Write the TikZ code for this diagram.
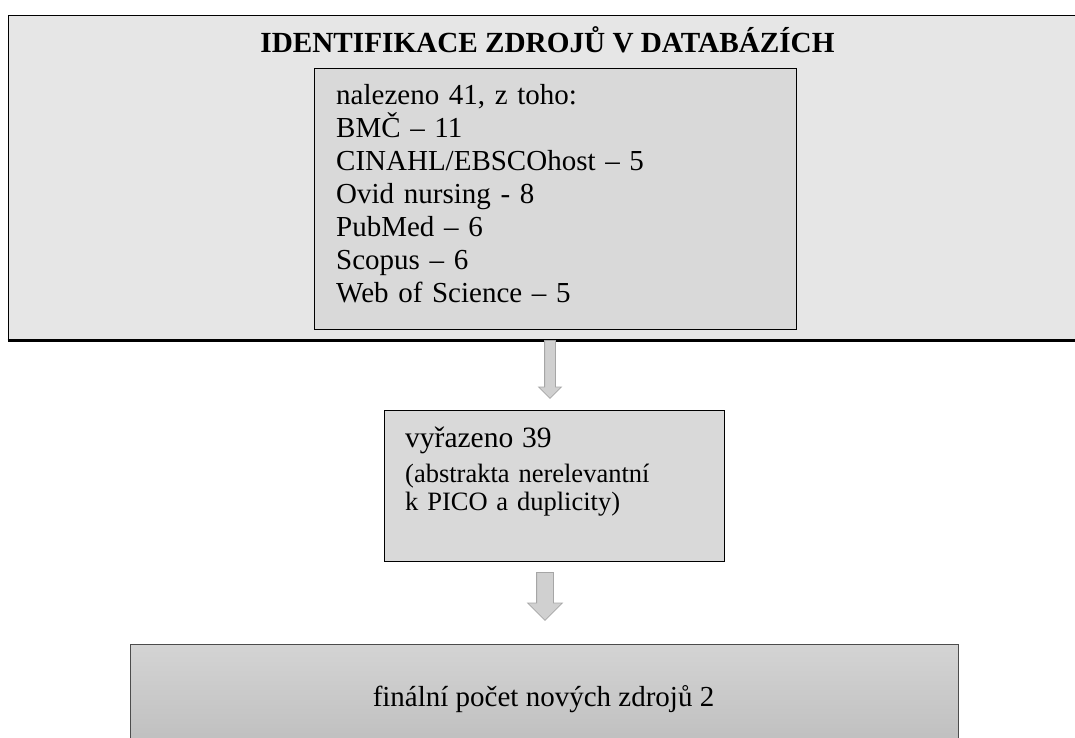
\documentclass[tikz,border=0pt]{standalone}
\usepackage{fontspec}
\setmainfont{Liberation Serif}
\usetikzlibrary{shapes.arrows}

\definecolor{dbfill}{HTML}{E6E6E6}
\definecolor{boxfill}{HTML}{D9D9D9}
\definecolor{arrowfill}{HTML}{D0D0D0}
\definecolor{arrowline}{HTML}{A6A6A6}
\definecolor{finaltop}{HTML}{D4D4D4}
\definecolor{finalbottom}{HTML}{BFBFBF}

\tikzset{
    panel/.style={rectangle, draw=black, line width=1.5pt, fill=dbfill, inner sep=0pt, anchor=north west},
    listbox/.style={rectangle, draw=black, line width=1.3pt, fill=boxfill, inner sep=0pt, anchor=north west},
    resultbox/.style={rectangle, draw=black!70, line width=1pt, top color=finaltop, bottom color=finalbottom, inner sep=0pt, anchor=north west},
    downarrow/.style={single arrow, draw=arrowline, fill=arrowfill, line width=0.8pt, inner xsep=0pt, single arrow tip angle=90, rotate=-90, anchor=tail},
    boxtext/.style={inner sep=0pt, anchor=base west, align=left},
}

\begin{document}
\begin{tikzpicture}[x=1pt, y=-1pt]
        \useasboundingbox (0,0) rectangle (1075,738);
        \clip (0,0) rectangle (1075,738);

        % databases panel
        \node[panel, minimum width=1100pt, minimum height=324pt] (db) at (7.5,15) {};
        \draw[line width=2.5pt] (db.south west) to (db.south east);
        \node[inner sep=0pt, anchor=base, font=\fontsize{29.2pt}{33pt}\selectfont\bfseries] (title) at (547.5,53) {IDENTIFIKACE ZDROJŮ V DATABÁZÍCH};

        \node[listbox, minimum width=482pt, minimum height=261pt] (found) at (314,68) {};
        \node[boxtext, text width=440pt, font=\fontsize{29pt}{33pt}\selectfont] (foundtext) at (336,105) {nalezeno 41, z toho:\\BMČ – 11\\CINAHL/EBSCOhost – 5\\Ovid nursing - 8\\PubMed – 6\\Scopus – 6\\Web of Science – 5};

        % removed
        \node[downarrow, inner ysep=5pt, minimum height=58pt, minimum width=22pt, single arrow head extend=6pt] (arrow1) at (550,340) {};
        \node[listbox, minimum width=340pt, minimum height=151pt] (removed) at (384,410) {};
        \node[boxtext, text width=300pt, font=\fontsize{26.5pt}{28pt}\selectfont] (removedtext) at (405,447) {{\fontsize{29.5pt}{28pt}\selectfont vyřazeno 39}\\[7pt](abstrakta nerelevantní\\k PICO a duplicity)};

        % final
        \node[downarrow, inner ysep=8pt, minimum height=48pt, minimum width=34pt, single arrow head extend=9pt] (arrow2) at (545,572) {};
        \node[resultbox, minimum width=828pt, minimum height=100pt] (final) at (130,644) {};
        \node[inner sep=0pt, anchor=base, font=\fontsize{29pt}{33pt}\selectfont] (finaltext) at (543.5,706) {finální počet nových zdrojů 2};
\end{tikzpicture}
\end{document}
